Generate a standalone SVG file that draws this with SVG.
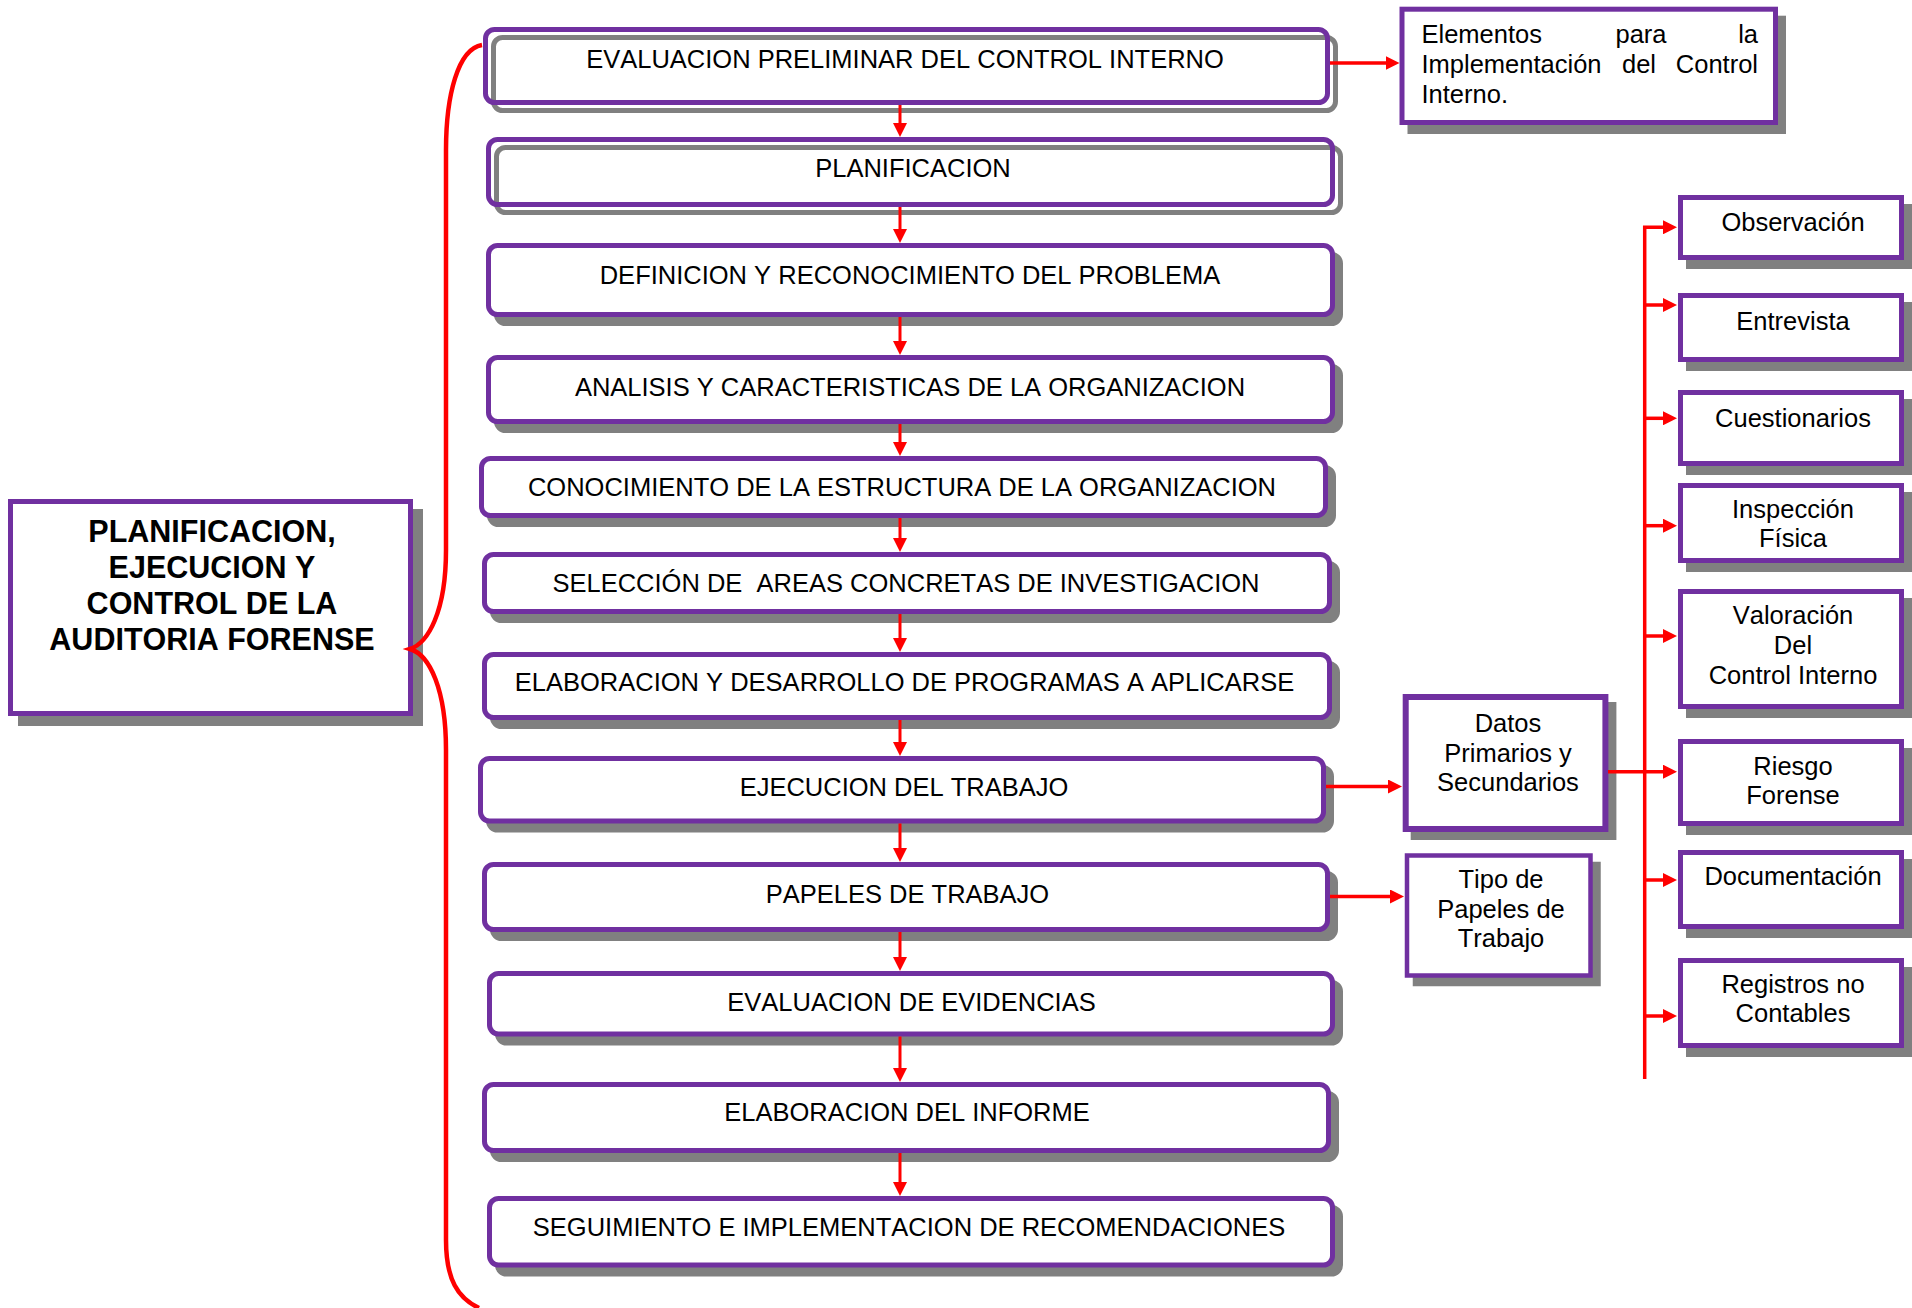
<svg xmlns="http://www.w3.org/2000/svg" width="1912" height="1308" viewBox="0 0 1912 1308">
<style>
  text{font-kerning:none}
  .box{fill:#fff;stroke:#7030A0;stroke-width:5}
  .obox{fill:none;stroke:#7030A0;stroke-width:5}
  .sh{fill:#808080;stroke:#808080;stroke-width:5}
  .osh{fill:none;stroke:#808080;stroke-width:5}
  .t{font-family:"Liberation Sans",Arial,sans-serif;font-size:25.5px;fill:#000;text-anchor:middle}
  .tl{font-family:"Liberation Sans",Arial,sans-serif;font-size:25.5px;fill:#000}
  .tb{font-family:"Liberation Sans",Arial,sans-serif;font-size:30.5px;font-weight:bold;fill:#000;text-anchor:middle}
  .c{fill:none;stroke:#FF0000;stroke-width:3.5}
  .cv{fill:none;stroke:#FF0000;stroke-width:3}
  .brace{fill:none;stroke:#FF0000;stroke-width:4.5}
</style>
<defs>
  <marker id="ah" viewBox="0 0 14 14" refX="2" refY="7" markerWidth="14" markerHeight="14" markerUnits="userSpaceOnUse" orient="auto">
    <path d="M0,0 L14,7 L0,14 z" fill="#FF0000"/>
  </marker>
</defs>

<g id="title">
  <rect class="sh" x="20.5" y="511.5" width="400" height="212"/>
  <rect class="box" x="10.5" y="501.5" width="400" height="212"/>
  <text class="tb" x="212" y="542">PLANIFICACION,</text>
  <text class="tb" x="212" y="578">EJECUCION Y</text>
  <text class="tb" x="212" y="614">CONTROL DE LA</text>
  <text class="tb" x="212" y="650">AUDITORIA FORENSE</text>
</g>

<g id="step1">
  <rect class="osh" x="493.5" y="37.5" width="842" height="73" rx="9"/>
  <rect class="obox" x="485.5" y="29.5" width="842" height="73" rx="9"/>
  <text class="t" x="905" y="68">EVALUACION PRELIMINAR DEL CONTROL INTERNO</text>
</g>
<g id="step2">
  <rect class="osh" x="496.5" y="147.5" width="844" height="65" rx="9"/>
  <rect class="obox" x="488.5" y="139.5" width="844" height="65" rx="9"/>
  <text class="t" x="913" y="177">PLANIFICACION</text>
</g>
<g id="step3">
  <rect class="sh" x="496.5" y="254.5" width="844" height="69" rx="9"/>
  <rect class="box" x="488.5" y="245.5" width="844" height="69" rx="9"/>
  <text class="t" x="910" y="283.5">DEFINICION Y RECONOCIMIENTO DEL PROBLEMA</text>
</g>
<g id="step4">
  <rect class="sh" x="496.5" y="366.5" width="844" height="64" rx="9"/>
  <rect class="box" x="488.5" y="357.5" width="844" height="64" rx="9"/>
  <text class="t" x="910" y="396">ANALISIS Y CARACTERISTICAS DE LA ORGANIZACION</text>
</g>
<g id="step5">
  <rect class="sh" x="489.5" y="467.5" width="844" height="57" rx="9"/>
  <rect class="box" x="481.5" y="458.5" width="844" height="57" rx="9"/>
  <text class="t" x="902" y="496">CONOCIMIENTO DE LA ESTRUCTURA DE LA ORGANIZACION</text>
</g>
<g id="step6">
  <rect class="sh" x="492.5" y="563.5" width="845" height="57" rx="9"/>
  <rect class="box" x="484.5" y="554.5" width="845" height="57" rx="9"/>
  <text class="t" x="906" y="591.5" xml:space="preserve">SELECCIÓN DE  AREAS CONCRETAS DE INVESTIGACION</text>
</g>
<g id="step7">
  <rect class="sh" x="492.5" y="663.5" width="845" height="63" rx="9"/>
  <rect class="box" x="484.5" y="654.5" width="845" height="63" rx="9"/>
  <text class="t" x="904.5" y="691">ELABORACION Y DESARROLLO DE PROGRAMAS A APLICARSE</text>
</g>
<g id="step8">
  <rect class="sh" x="488.5" y="767.5" width="843" height="62.5" rx="9"/>
  <rect class="box" x="480.5" y="758.5" width="843" height="62.5" rx="9"/>
  <text class="t" x="904" y="796">EJECUCION DEL TRABAJO</text>
</g>
<g id="step9">
  <rect class="sh" x="492.5" y="873.5" width="843" height="65" rx="9"/>
  <rect class="box" x="484.5" y="864.5" width="843" height="65" rx="9"/>
  <text class="t" x="907.5" y="903">PAPELES DE TRABAJO</text>
</g>
<g id="step10">
  <rect class="sh" x="497.5" y="982.5" width="843" height="60.5" rx="9"/>
  <rect class="box" x="489.5" y="973.5" width="843" height="60.5" rx="9"/>
  <text class="t" x="911.5" y="1010.5">EVALUACION DE EVIDENCIAS</text>
</g>
<g id="step11">
  <rect class="sh" x="492.5" y="1093.5" width="844" height="66" rx="9"/>
  <rect class="box" x="484.5" y="1084.5" width="844" height="66" rx="9"/>
  <text class="t" x="907" y="1121">ELABORACION DEL INFORME</text>
</g>
<g id="step12">
  <rect class="sh" x="497.5" y="1207.5" width="843" height="66.5" rx="9"/>
  <rect class="box" x="489.5" y="1198.5" width="843" height="66.5" rx="9"/>
  <text class="t" x="909" y="1235.5">SEGUIMIENTO E IMPLEMENTACION DE RECOMENDACIONES</text>
</g>

<g id="elementos">
  <rect class="sh" x="1410" y="18.2" width="373.5" height="113.3"/>
  <rect class="box" x="1402" y="9.2" width="373.5" height="113.3"/>
  <text class="tl" x="1421.5" y="42.7">Elementos</text>
  <text class="tl" x="1615.5" y="42.7">para</text>
  <text class="tl" x="1758" y="42.7" text-anchor="end">la</text>
  <text class="tl" x="1421.5" y="72.7">Implementación</text>
  <text class="tl" x="1622" y="72.7">del</text>
  <text class="tl" x="1758" y="72.7" text-anchor="end">Control</text>
  <text class="tl" x="1421.5" y="102.7">Interno.</text>
</g>

<g id="datos">
  <rect class="sh" x="1413.7" y="705" width="199.7" height="132" style="stroke-width:6"/>
  <rect class="box" x="1405.7" y="697" width="199.7" height="132" style="stroke-width:6"/>
  <text class="t" x="1508" y="732">Datos</text>
  <text class="t" x="1508" y="761.5">Primarios y</text>
  <text class="t" x="1508" y="791">Secundarios</text>
</g>
<g id="tipo">
  <rect class="sh" x="1415" y="864" width="183.5" height="120" style="stroke-width:4.5"/>
  <rect class="box" x="1407" y="855.5" width="183.5" height="120" style="stroke-width:4.5"/>
  <text class="t" x="1501" y="888.3">Tipo de</text>
  <text class="t" x="1501" y="918.3">Papeles de</text>
  <text class="t" x="1501" y="947.3">Trabajo</text>
</g>

<g id="observacion">
  <rect class="sh" x="1688.5" y="206.5" width="221" height="60"/>
  <rect class="box" x="1680.5" y="197.5" width="221" height="60"/>
  <text class="t" x="1793" y="230.7">Observación</text>
</g>
<g id="entrevista">
  <rect class="sh" x="1688.5" y="304.5" width="221" height="64"/>
  <rect class="box" x="1680.5" y="295.5" width="221" height="64"/>
  <text class="t" x="1793" y="330">Entrevista</text>
</g>
<g id="cuestionarios">
  <rect class="sh" x="1688.5" y="401.5" width="221" height="71"/>
  <rect class="box" x="1680.5" y="392.5" width="221" height="71"/>
  <text class="t" x="1793" y="426.7">Cuestionarios</text>
</g>
<g id="inspeccion">
  <rect class="sh" x="1688.5" y="494.5" width="221" height="75"/>
  <rect class="box" x="1680.5" y="485.5" width="221" height="75"/>
  <text class="t" x="1793" y="518.3">Inspección</text>
  <text class="t" x="1793" y="547.3">Física</text>
</g>
<g id="valoracion">
  <rect class="sh" x="1688.5" y="600.5" width="221" height="115"/>
  <rect class="box" x="1680.5" y="591.5" width="221" height="115"/>
  <text class="t" x="1793" y="624">Valoración</text>
  <text class="t" x="1793" y="654">Del</text>
  <text class="t" x="1793" y="684">Control Interno</text>
</g>
<g id="riesgo">
  <rect class="sh" x="1688.5" y="750.5" width="221" height="82"/>
  <rect class="box" x="1680.5" y="741.5" width="221" height="82"/>
  <text class="t" x="1793" y="775">Riesgo</text>
  <text class="t" x="1793" y="804">Forense</text>
</g>
<g id="documentacion">
  <rect class="sh" x="1688.5" y="861.5" width="221" height="74"/>
  <rect class="box" x="1680.5" y="852.5" width="221" height="74"/>
  <text class="t" x="1793" y="885">Documentación</text>
</g>
<g id="registros">
  <rect class="sh" x="1688.5" y="969.5" width="221" height="85"/>
  <rect class="box" x="1680.5" y="960.5" width="221" height="85"/>
  <text class="t" x="1793" y="992.7">Registros no</text>
  <text class="t" x="1793" y="1021.7">Contables</text>
</g>

<g id="connectors">
  <path class="brace" d="M482,45 C458,49 446,95 446,150 L446,550 C446,612 428,643 410,649 C430,655 446,690 446,750 L446,1240 C446,1280 458,1298 479,1308"/>
  <path class="cv" d="M900,105 V125" marker-end="url(#ah)"/>
  <path class="cv" d="M900,207 V231" marker-end="url(#ah)"/>
  <path class="cv" d="M900,317 V343" marker-end="url(#ah)"/>
  <path class="cv" d="M900,424 V444" marker-end="url(#ah)"/>
  <path class="cv" d="M900,518 V540" marker-end="url(#ah)"/>
  <path class="cv" d="M900,614 V640" marker-end="url(#ah)"/>
  <path class="cv" d="M900,720 V744" marker-end="url(#ah)"/>
  <path class="cv" d="M900,823.5 V850" marker-end="url(#ah)"/>
  <path class="cv" d="M900,932 V959" marker-end="url(#ah)"/>
  <path class="cv" d="M900,1036.5 V1070" marker-end="url(#ah)"/>
  <path class="cv" d="M900,1153 V1184" marker-end="url(#ah)"/>
  <path class="c" d="M1330,63 H1387.5" marker-end="url(#ah)"/>
  <path class="c" d="M1326,786.5 H1390" marker-end="url(#ah)"/>
  <path class="c" d="M1330,896.5 H1392" marker-end="url(#ah)"/>
  <path class="c" d="M1608,771.7 H1665" marker-end="url(#ah)"/>
  <path class="c" d="M1644.7,1079 V227.3 H1665" marker-end="url(#ah)"/>
  <path class="c" d="M1644.7,305 H1665" marker-end="url(#ah)"/>
  <path class="c" d="M1644.7,418.3 H1665" marker-end="url(#ah)"/>
  <path class="c" d="M1644.7,525.7 H1665" marker-end="url(#ah)"/>
  <path class="c" d="M1644.7,636 H1665" marker-end="url(#ah)"/>
  <path class="c" d="M1644.7,880 H1665" marker-end="url(#ah)"/>
  <path class="c" d="M1644.7,1016 H1665" marker-end="url(#ah)"/>
</g>
</svg>
